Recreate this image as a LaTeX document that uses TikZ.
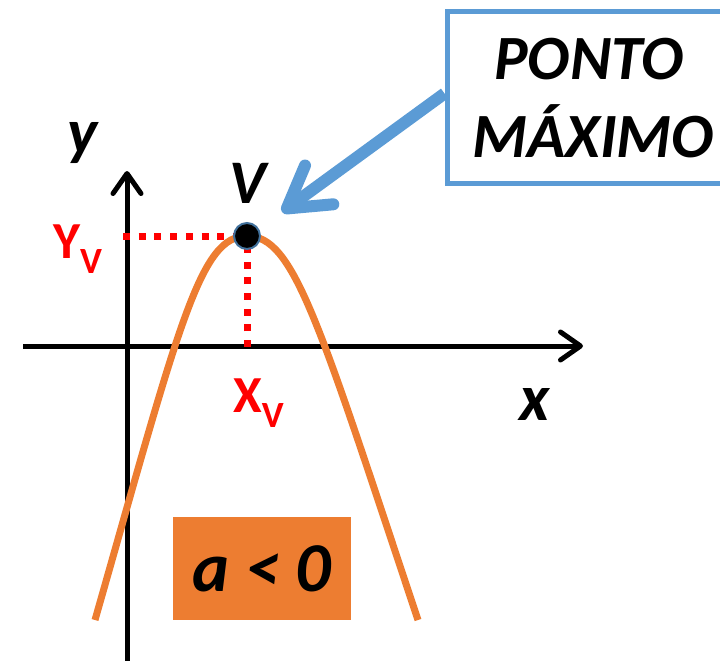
\documentclass[tikz,border=0pt]{standalone}
\usepackage{fontspec}
\setmainfont{Carlito}
\usetikzlibrary{arrows.meta}
\definecolor{curveorange}{HTML}{ED7D31}
\definecolor{callblue}{HTML}{5B9BD5}
\definecolor{dotborder}{HTML}{41719C}
\definecolor{labelred}{HTML}{FF0000}
\begin{document}
\begin{tikzpicture}[x=1pt,y=-1pt,
  axisline/.style={line width=5pt,-{Straight Barb[length=20pt,width=28pt,line width=5pt,round]}},
  curveline/.style={line width=7pt,draw=curveorange},
  reddots/.style={line width=7pt,draw=labelred,dash pattern=on 7pt off 8.7pt},
  bigital/.style={font=\fontsize{62}{62}\selectfont\bfseries\itshape,inner sep=0pt,anchor=base},
  boxital/.style={font=\fontsize{63}{63}\selectfont\bfseries\itshape,inner sep=0pt,anchor=base},
  redlabel/.style={text=labelred,font=\fontsize{52}{52}\selectfont\bfseries,inner sep=0pt,anchor=base west},
  callout/.style={line width=12pt,draw=callblue,-{Straight Barb[length=40pt,width=48pt,line width=12pt,round]}}
]
\useasboundingbox (0,0) rectangle (720,661);
% axes
\coordinate (xstart) at (23,346);
\coordinate (xend) at (583,346);
\coordinate (ystart) at (127,661);
\coordinate (yend) at (127,171);
\draw[axisline] (xstart) -- (xend);
\draw[axisline] (ystart) -- (yend);
% vertex position
\coordinate (vpos) at (247,236);
% dotted guides
\coordinate (yvmark) at (123,236);
\coordinate (xvmark) at (247,347);
\draw[reddots] (yvmark) -- (vpos);
\draw[reddots] (xvmark) -- (vpos);
% parabola
\draw[curveline] (95,620) .. controls (180,322) and (200,236) .. (vpos)
                         .. controls (294,236) and (318,320) .. (418,620);
% vertex
\node[circle,fill=black,draw=dotborder,line width=2pt,minimum size=26pt,inner sep=0pt] (vtx) at (vpos) {};
% labels
\node[bigital,font=\fontsize{64}{64}\selectfont\bfseries\itshape] (ylab) at (83,153) {y};
\node[bigital,font=\fontsize{66}{66}\selectfont\bfseries\itshape] (xlab) at (535,420) {x};
\node[bigital] (vlab) at (248,203) {V};
\node[redlabel] (yvlab) at (53,258) {Y\raisebox{-15pt}{\fontsize{37}{37}\selectfont V}};
\node[redlabel] (xvlab) at (233,412) {X\raisebox{-15pt}{\fontsize{37}{37}\selectfont V}};
% callout box
\node[draw=callblue,line width=5pt,minimum width=278pt,minimum height=171pt,inner sep=0pt] (box) at (586,97.5) {};
\node[boxital] (t1) at (589,80) {PONTO};
\node[boxital] (t2) at (593,157) {MÁXIMO};
\coordinate (tipV) at (282,212);
\draw[callout] ([yshift=4pt]box.west) -- (tipV);
% a<0 box
\node[fill=curveorange,minimum width=178pt,minimum height=103pt,inner sep=0pt,
      font=\fontsize{70}{70}\selectfont\bfseries\itshape] (abox) at (262,568.5) {a < 0};
\end{tikzpicture}
\end{document}
